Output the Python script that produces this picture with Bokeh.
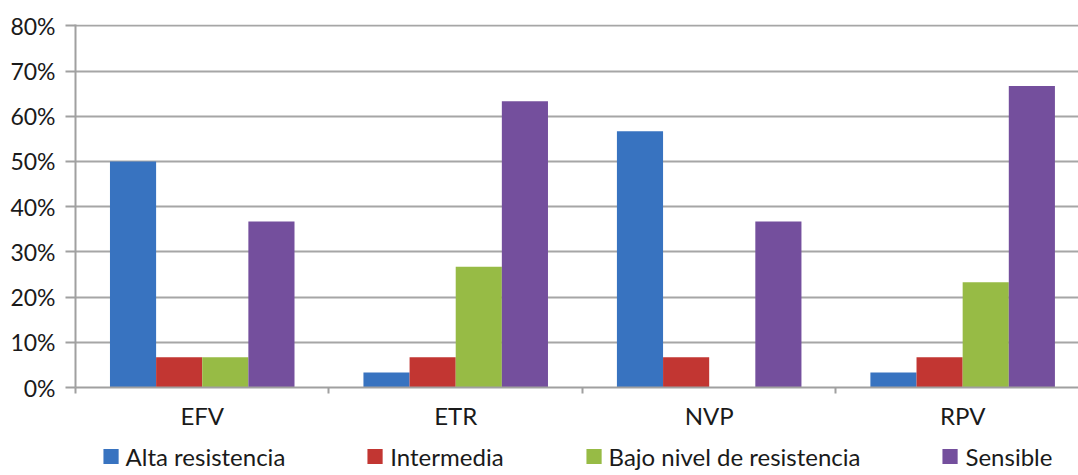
from bokeh.plotting import figure
from bokeh.models import (ColumnDataSource, Range1d, FixedTicker, NumeralTickFormatter,
                          Legend, LegendItem)
from bokeh.layouts import column
from bokeh.embed import file_html
from bokeh.resources import INLINE

categories = ["EFV", "ETR", "NVP", "RPV"]
series = ["Alta resistencia", "Intermedia", "Bajo nivel de resistencia", "Sensible"]
alta = [0.500, 0.033, 0.567, 0.033]
intermedia = [0.067, 0.067, 0.067, 0.067]
bajo = [0.067, 0.267, 0.0, 0.233]
sensible = [0.367, 0.633, 0.367, 0.667]
colors = ["#3873c0", "#c23632", "#97bb45", "#744f9d"]
y_ticks = [0, 0.1, 0.2, 0.3, 0.4, 0.5, 0.6, 0.7, 0.8]

FONT = "Lato"
TXT = "#1a1a1a"

p = figure(width=1078, height=432, output_backend="svg", toolbar_location=None,
           x_range=Range1d(0, 3.957), y_range=Range1d(0, 0.803),
           min_border_left=75, min_border_right=0, min_border_top=24,
           min_border_bottom=44,
           background_fill_color="white", border_fill_color="white")
p.outline_line_color = None
p.xgrid.grid_line_color = None
p.ygrid.grid_line_color = "#a6a6a6"
p.ygrid.grid_line_width = 2

bw = 0.182
centers = [i + 0.5 for i in range(len(categories))]
values = [alta, intermedia, bajo, sensible]
bar_renderers = []
for k, (name, vals, col) in enumerate(zip(series, values, colors)):
    off = (k - 1.5) * bw
    src = ColumnDataSource(dict(x=[c + off for c in centers], top=vals))
    bar_renderers.append(p.vbar(x="x", top="top", bottom=0, width=bw, source=src,
                                fill_color=col, line_color=None))

# y axis
p.yaxis.ticker = FixedTicker(ticks=y_ticks)
p.yaxis.formatter = NumeralTickFormatter(format="0%")
p.yaxis.axis_line_color = "#a0a0a0"
p.yaxis.axis_line_width = 2
p.yaxis.major_tick_line_color = "#a0a0a0"
p.yaxis.major_tick_line_width = 2
p.yaxis.major_tick_out = 10
p.yaxis.major_tick_in = 0
p.yaxis.minor_tick_line_color = None
p.yaxis.major_label_text_font = FONT
p.yaxis.major_label_text_font_size = "23px"
p.yaxis.major_label_text_color = TXT
p.yaxis.major_label_standoff = 10

# x axis
p.xaxis.ticker = FixedTicker(ticks=centers, minor_ticks=[0, 1, 2, 3, 4])
p.xaxis.major_label_overrides = {c: cat for c, cat in zip(centers, categories)}
p.xaxis.axis_line_color = "#a0a0a0"
p.xaxis.axis_line_width = 2
p.xaxis.major_tick_line_color = None
p.xaxis.minor_tick_line_color = "#a0a0a0"
p.xaxis.minor_tick_line_width = 2
p.xaxis.minor_tick_out = 6
p.xaxis.minor_tick_in = 0
p.xaxis.major_label_text_font = FONT
p.xaxis.major_label_text_font_size = "24px"
p.xaxis.major_label_text_color = TXT
p.xaxis.major_label_standoff = 7

# legend in a strip below the chart (proxy renderers share the bar sources, drawn off-range)
p2 = figure(width=1078, height=43, output_backend="svg", toolbar_location=None,
            x_range=Range1d(100, 101), y_range=Range1d(100, 101),
            min_border_left=48, min_border_right=0, min_border_top=4,
            min_border_bottom=0, background_fill_color="white",
            border_fill_color="white")
p2.outline_line_color = None
p2.axis.visible = False
p2.grid.visible = False
proxies = []
for r, col in zip(bar_renderers, colors):
    proxies.append(p2.vbar(x="x", top="top", bottom=0, width=bw, source=r.data_source,
                           fill_color=col, line_color=None))

legend = Legend(items=[LegendItem(label=s, renderers=[r]) for s, r in zip(series, proxies)],
                orientation="horizontal", location="center",
                label_text_font=FONT, label_text_font_size="24px",
                label_text_color=TXT,
                glyph_width=19, glyph_height=19, label_standoff=6, spacing=80,
                border_line_color=None, background_fill_alpha=0,
                padding=0, margin=0)
p2.add_layout(legend, "center")

layout = column(p, p2, spacing=0)
open("out.html", "w").write(file_html(layout, INLINE))
